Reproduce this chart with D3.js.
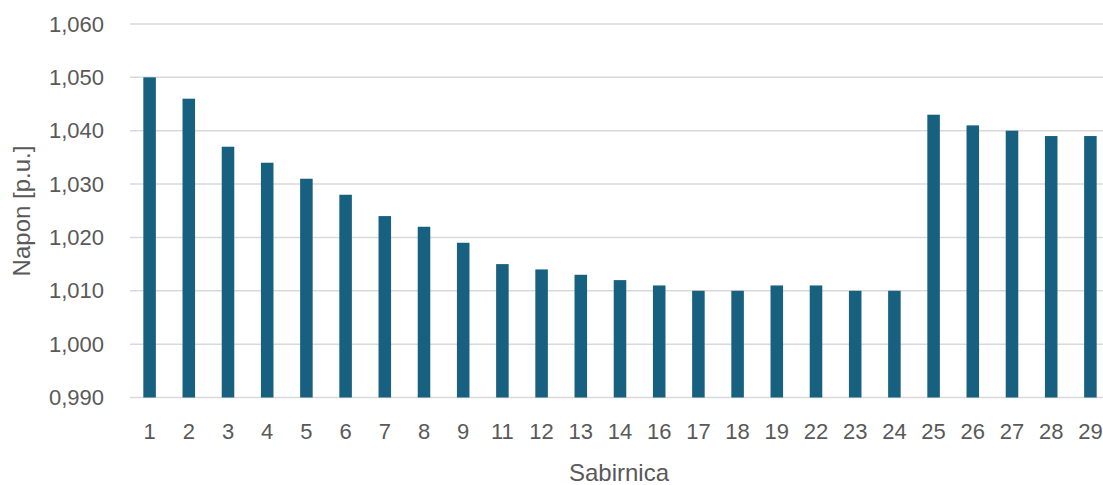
<!DOCTYPE html>
<html><head><meta charset="utf-8">
<script src="https://cdn.jsdelivr.net/npm/d3@7"></script>
<style>body{margin:0;background:#fff;}svg{display:block;}</style>
</head><body>
<svg id="c" width="1103" height="485"></svg>
<script>
const categories = ["1","2","3","4","5","6","7","8","9","11","12","13","14","16","17","18","19","22","23","24","25","26","27","28","29"];
const values = [1.050,1.046,1.037,1.034,1.031,1.028,1.024,1.022,1.019,1.015,1.014,1.013,1.012,1.011,1.010,1.010,1.011,1.011,1.010,1.010,1.043,1.041,1.040,1.039,1.039];
const yTicks = [0.990,1.000,1.010,1.020,1.030,1.040,1.050,1.060];
const yTitle = "Napon [p.u.]";
const xTitle = "Sabirnica";

(function(){
const svg = d3.select("#c");
const mLeft = 130, mRight = 1110, mTop = 24, mBottom = 397.5;
const x = d3.scaleBand().domain(categories).range([mLeft, mRight]).paddingInner(0.68).paddingOuter(0.34);
const y = d3.scaleLinear().domain([0.990, 1.060]).range([mBottom, mTop]);
const font = "'Liberation Sans', Arial, sans-serif";
const txt = "#595959";

svg.append("g").selectAll("line").data(yTicks).join("line")
  .attr("x1", mLeft).attr("x2", mRight)
  .attr("y1", d => y(d)).attr("y2", d => y(d))
  .attr("stroke", "#d9d9d9").attr("stroke-width", 1.5);

svg.append("g").selectAll("rect").data(values).join("rect")
  .attr("x", (d,i) => x(categories[i]))
  .attr("width", x.bandwidth())
  .attr("y", d => y(d))
  .attr("height", d => y(0.990) - y(d))
  .attr("fill", "#17607f");

const yAxis = d3.axisLeft(y).tickValues(yTicks).tickSize(0).tickPadding(0)
  .tickFormat(d => d3.format(".3f")(d).replace(".", ","));
const gy = svg.append("g").attr("transform", `translate(104,0)`).call(yAxis);
gy.select(".domain").remove();
gy.selectAll("text").attr("fill", txt).style("font-family", font).style("font-size", "22px");

const xAxis = d3.axisBottom(x).tickSize(0).tickPadding(0);
const gx = svg.append("g").attr("transform", `translate(0,${mBottom + 25.5})`).call(xAxis);
gx.select(".domain").remove();
gx.selectAll("text").attr("fill", txt).style("font-family", font).style("font-size", "22px");

svg.append("text").attr("transform", "translate(30,211) rotate(-90)")
  .attr("text-anchor", "middle").attr("fill", txt)
  .style("font-family", font).style("font-size", "24px").text(yTitle);
svg.append("text").attr("x", 619).attr("y", 481)
  .attr("text-anchor", "middle").attr("fill", txt)
  .style("font-family", font).style("font-size", "24px").text(xTitle);
})();
</script>
</body></html>
